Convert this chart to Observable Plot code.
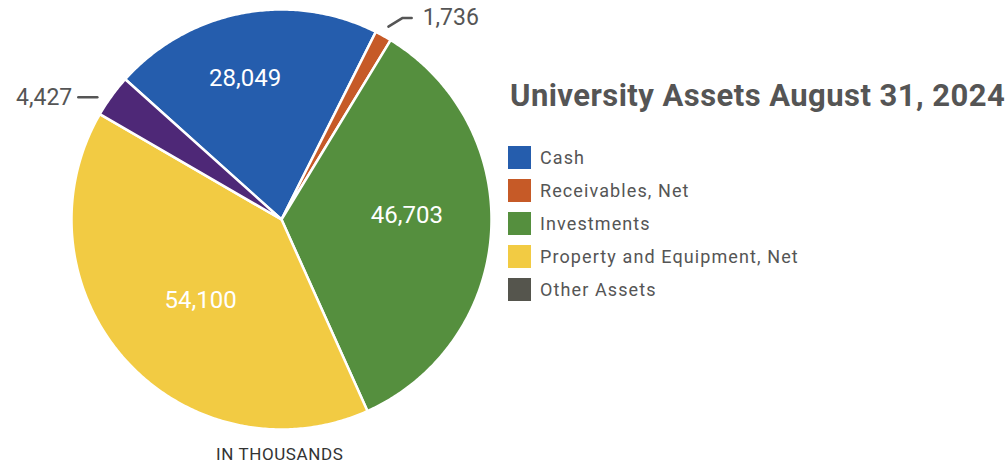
<!DOCTYPE html>
<html>
<head>
<meta charset="utf-8">
<script src="https://cdn.jsdelivr.net/npm/d3@7"></script>
<script src="https://cdn.jsdelivr.net/npm/@observablehq/plot@0.6"></script>
<style>
  html, body { margin: 0; padding: 0; background: #fff; }
  #wrap { position: relative; width: 1008px; height: 467px; font-family: Roboto, "Noto Sans", sans-serif; }
  #title { position: absolute; left: 510px; top: 77px; font-size: 31px; font-weight: 700; color: #555; white-space: nowrap; letter-spacing: 0.45px; line-height: 38px; }
  #legend { position: absolute; left: 508px; top: 141px; }
  .item { display: flex; align-items: center; height: 33px; }
  .sw { width: 23px; height: 23px; margin-right: 9px; }
  .lab { font-size: 18px; color: #555; white-space: nowrap; letter-spacing: 1.1px; }
  #caption { position: absolute; left: 216px; top: 443px; font-size: 17px; line-height: 22px; color: #333; letter-spacing: 0.6px; white-space: nowrap; }
  #chart { position: absolute; left: 0; top: 0; }
</style>
</head>
<body>
<div id="wrap">
  <div id="chart"></div>
  <div id="title">University Assets August 31, 2024</div>
  <div id="legend"></div>
  <div id="caption">IN THOUSANDS</div>
</div>
<script>
const categories = ["Cash", "Receivables, Net", "Investments", "Property and Equipment, Net", "Other Assets"];
const values = [28049, 1736, 46703, 54100, 4427];
const labels = ["28,049", "1,736", "46,703", "54,100", "4,427"];
const pieColors = ["#255dad", "#c65a27", "#558f3e", "#f2cb43", "#4e2877"];
const legendColors = ["#255dad", "#c65a27", "#558f3e", "#f2cb43", "#55554d"];
const outside = [false, true, false, false, true];

const W = 1008, H = 467, R = 210, cx = 281, cy = 219;
const startAngle = -48.1 * Math.PI / 180;
const labelRotate = -4 * Math.PI / 180;

const pie = d3.pie().sort(null).startAngle(startAngle).endAngle(startAngle + 2 * Math.PI)(values);

const pt = (a, r) => [r * Math.sin(a), r * Math.cos(a)];

const poly = [];
pie.forEach((s, i) => {
  poly.push({key: categories[i], x: 0, y: 0});
  const n = Math.max(4, Math.ceil((s.endAngle - s.startAngle) / 0.01));
  for (let k = 0; k <= n; k++) {
    const a = s.startAngle + (s.endAngle - s.startAngle) * k / n;
    const [x, y] = pt(a, 1);
    poly.push({key: categories[i], x, y});
  }
});

const inside = [], leaders = [], outLabels = [];
pie.forEach((s, i) => {
  const mid = (s.startAngle + s.endAngle) / 2;
  const span = s.endAngle - s.startAngle;
  if (!outside[i]) {
    const rc = 1.1 * 4 * Math.sin(span / 2) / (3 * span);
    const [x, y] = pt(mid + labelRotate, rc);
    inside.push({x, y: y + 3 / R, text: labels[i]});
  } else {
    const right = Math.sin(mid) > 0;
    if (right) {
      const [x0, y0] = pt(mid, 1.05);
      const [x1, y1] = pt(mid + 0.035, 1.12);
      const x2 = x1 + 9 / R;
      leaders.push({key: i, x: x0, y: y0}, {key: i, x: x1, y: y1}, {key: i, x: x2, y: y1});
      outLabels.push({x: x2 + 11 / R, y: y1, text: labels[i], anchor: "start"});
    } else {
      const [x0, y0] = pt(mid, 0.99);
      const xs = x0 - 16 / R, x1 = xs - 19 / R;
      leaders.push({key: i, x: xs, y: y0}, {key: i, x: x1, y: y0});
      outLabels.push({x: x1 - 6 / R, y: y0, text: labels[i], anchor: "end"});
    }
  }
});

const plot = Plot.plot({
  width: W, height: H,
  margin: 0,
  x: {domain: [-cx / R, (W - cx) / R], range: [0, W], axis: null},
  y: {domain: [-(H - cy) / R, cy / R], range: [H, 0], axis: null},
  color: {domain: categories, range: pieColors},
  marks: [
    Plot.line(poly, {x: "x", y: "y", z: "key", fill: "key", stroke: "white", strokeWidth: 2.5, curve: "linear-closed", strokeLinejoin: "round"}),
    Plot.text(inside, {x: "x", y: "y", text: "text", fill: "white", fontSize: 24, fontFamily: "Roboto, sans-serif"}),
    Plot.line(leaders, {x: "x", y: "y", z: "key", stroke: "#555", strokeWidth: 2.5}),
    Plot.text(outLabels.filter(d => d.anchor === "start"), {x: "x", y: "y", text: "text", fill: "#555", fontSize: 23, textAnchor: "start", fontFamily: "Roboto, sans-serif"}),
    Plot.text(outLabels.filter(d => d.anchor === "end"), {x: "x", y: "y", text: "text", fill: "#555", fontSize: 23, textAnchor: "end", fontFamily: "Roboto, sans-serif"})
  ]
});
document.getElementById("chart").appendChild(plot);

const leg = document.getElementById("legend");
categories.forEach((c, i) => {
  const it = document.createElement("div");
  it.className = "item";
  it.innerHTML = `<div class="sw" style="background:${legendColors[i]}"></div><div class="lab">${c}</div>`;
  leg.appendChild(it);
});
</script>
</body>
</html>
